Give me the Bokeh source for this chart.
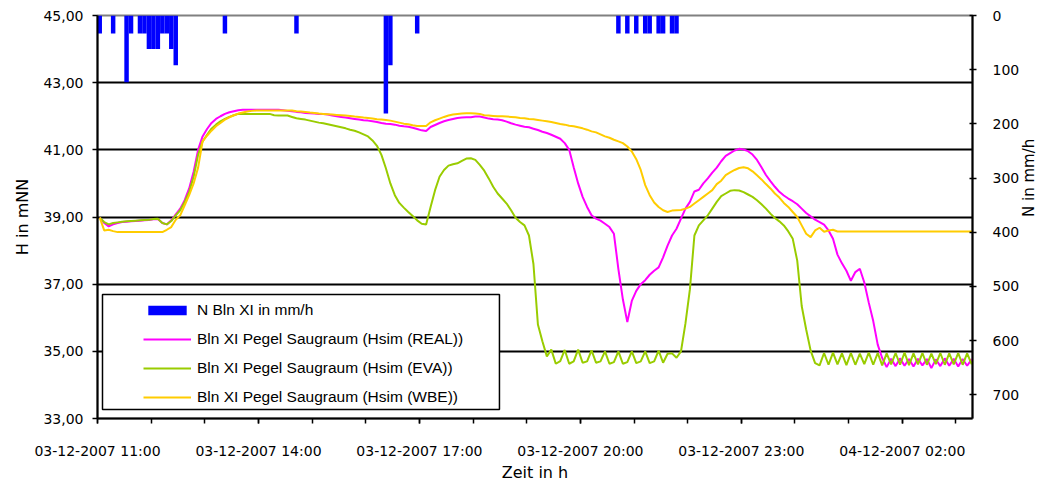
import math
import pandas as pd
from bokeh.plotting import figure
from bokeh.models import (Range1d, LinearAxis, FixedTicker, DatetimeTickFormatter,
                          Legend, LegendItem, BoxAnnotation)
from bokeh.embed import file_html
from bokeh.resources import INLINE

# ---------------- data (5-minute values, first slot starts 03-12-2007 11:00) ----------------
START = "2007-12-03 11:00"
STEP_MIN = 5

# Bln XI Pegel Saugraum (Hsim (REAL))  [mNN]
h_real = [
    38.98, 38.82, 38.72, 38.78, 38.82, 38.85, 38.86, 38.87, 38.88, 38.89, 38.90, 38.91,  # 11:00
    38.93, 38.94, 38.82, 38.78, 38.90, 39.08, 39.25, 39.50, 39.85, 40.35, 41.00, 41.40,  # 12:00
    41.62, 41.80, 41.92, 42.00, 42.07, 42.12, 42.15, 42.18, 42.19, 42.19, 42.19, 42.19,  # 13:00
    42.19, 42.19, 42.19, 42.19, 42.19, 42.18, 42.16, 42.15, 42.13, 42.12, 42.10, 42.09,  # 14:00
    42.08, 42.07, 42.07, 42.05, 42.02, 42.00, 41.98, 41.96, 41.94, 41.92, 41.90, 41.88,  # 15:00
    41.87, 41.85, 41.83, 41.80, 41.78, 41.77, 41.75, 41.72, 41.70, 41.69, 41.66, 41.62,  # 16:00
    41.58, 41.56, 41.68, 41.74, 41.80, 41.85, 41.89, 41.92, 41.95, 41.96, 41.97, 41.97,  # 17:00
    41.99, 41.99, 41.96, 41.93, 41.91, 41.90, 41.88, 41.84, 41.79, 41.75, 41.72, 41.69,  # 18:00
    41.67, 41.63, 41.59, 41.54, 41.50, 41.45, 41.39, 41.33, 41.20, 41.00, 40.48, 40.00,  # 19:00
    39.60, 39.30, 39.05, 38.95, 38.89, 38.80, 38.70, 38.50, 37.45, 36.55, 35.87, 36.50,  # 20:00
    36.80, 37.00, 37.12, 37.28, 37.40, 37.50, 37.80, 38.15, 38.45, 38.65, 38.95, 39.25,  # 21:00
    39.45, 39.76, 39.81, 40.00, 40.15, 40.32, 40.47, 40.66, 40.82, 40.90, 40.98, 41.03,  # 22:00
    41.01, 40.96, 40.86, 40.70, 40.48, 40.25, 40.07, 39.90, 39.75, 39.64, 39.55, 39.47,  # 23:00
    39.38, 39.25, 39.12, 39.02, 38.92, 38.85, 38.77, 38.60, 38.35, 37.88, 37.62, 37.40,  # 00:00
    37.10, 37.36, 37.46, 37.05, 36.45, 35.90, 35.20, 34.80, 34.53, 34.78, 34.56, 34.79,  # 01:00
    34.57, 34.77, 34.55, 34.78, 34.58, 34.77, 34.50, 34.76, 34.56, 34.79, 34.57, 34.78,  # 02:00
    34.55, 34.77, 34.57, 34.76, 34.58,                                                   # 03:00
]

# Bln XI Pegel Saugraum (Hsim (EVA))  [mNN]
h_eva = [
    38.98, 38.85, 38.78, 38.82, 38.84, 38.86, 38.87, 38.88, 38.89, 38.90, 38.91, 38.92,
    38.94, 38.95, 38.82, 38.78, 38.88, 39.05, 39.20, 39.45, 39.75, 40.20, 40.85, 41.25,
    41.45, 41.63, 41.75, 41.85, 41.92, 41.98, 42.03, 42.07, 42.07, 42.07, 42.07, 42.07,
    42.07, 42.07, 42.07, 42.03, 42.02, 42.02, 42.02, 41.98, 41.94, 41.92, 41.90, 41.87,
    41.84, 41.81, 41.79, 41.76, 41.73, 41.70, 41.67, 41.64, 41.60, 41.57, 41.52, 41.46,
    41.40, 41.28, 41.12, 40.85, 40.45, 40.00, 39.65, 39.42, 39.28, 39.15, 39.03, 38.90,
    38.80, 38.78, 39.30, 39.80, 40.20, 40.40, 40.53, 40.57, 40.60, 40.67, 40.74, 40.75,
    40.70, 40.55, 40.38, 40.15, 39.90, 39.70, 39.55, 39.40, 39.20, 38.98, 38.85, 38.75,
    38.45, 37.60, 35.80, 35.30, 34.85, 35.05, 34.63, 34.71, 35.04, 34.63, 34.70, 35.05,
    34.66, 34.70, 35.03, 34.66, 34.70, 35.00, 34.63, 34.68, 35.00, 34.63, 34.68, 35.00,
    34.65, 34.70, 35.00, 34.65, 34.70, 35.02, 34.66, 34.93, 34.94, 34.81, 35.00, 35.83,
    36.85, 38.45, 38.75, 38.90, 39.05, 39.25, 39.45, 39.62, 39.70, 39.78, 39.80, 39.79,
    39.74, 39.67, 39.60, 39.50, 39.38, 39.25, 39.10, 38.97, 38.87, 38.75, 38.57, 38.35,
    37.70, 36.35, 35.65, 35.02, 34.65, 34.58, 34.95, 34.60, 34.96, 34.61, 34.94, 34.59,
    34.95, 34.60, 34.93, 34.62, 34.96, 34.60, 34.95, 34.58, 34.94, 34.61, 34.95, 34.60,
    34.96, 34.59, 34.94, 34.61, 34.95, 34.60, 34.93, 34.62, 34.95, 34.60, 34.94, 34.61,
    34.95, 34.60, 34.94, 34.62, 34.90,
]

# Bln XI Pegel Saugraum (Hsim (WBE))  [mNN]
h_wbe = [
    38.98, 38.60, 38.62, 38.58, 38.55, 38.55, 38.55, 38.55, 38.55, 38.55, 38.55, 38.55,
    38.55, 38.55, 38.55, 38.62, 38.70, 38.92, 39.05, 39.35, 39.65, 40.00, 40.47, 41.25,
    41.42, 41.57, 41.70, 41.80, 41.90, 41.97, 42.03, 42.08, 42.11, 42.14, 42.16, 42.17,
    42.17, 42.17, 42.17, 42.17, 42.17, 42.17, 42.17, 42.17, 42.15, 42.14, 42.13, 42.11,
    42.10, 42.08, 42.07, 42.06, 42.05, 42.04, 42.03, 42.02, 42.01, 41.99, 41.98, 41.96,
    41.95, 41.93, 41.91, 41.90, 41.89, 41.87, 41.84, 41.81, 41.78, 41.76, 41.73, 41.71,
    41.71, 41.71, 41.82, 41.88, 41.93, 41.98, 42.02, 42.05, 42.07, 42.08, 42.09, 42.09,
    42.08, 42.07, 42.03, 42.02, 42.01, 42.00, 42.00, 41.99, 41.98, 41.97, 41.95, 41.94,
    41.92, 41.91, 41.89, 41.87, 41.85, 41.83, 41.80, 41.77, 41.75, 41.72, 41.70, 41.67,
    41.64, 41.60, 41.55, 41.52, 41.46, 41.40, 41.36, 41.30, 41.25, 41.20, 41.10, 40.95,
    40.72, 40.40, 39.95, 39.65, 39.43, 39.30, 39.20, 39.15, 39.19, 39.20, 39.21, 39.25,
    39.30, 39.40, 39.50, 39.60, 39.70, 39.80, 39.98, 40.08, 40.25, 40.33, 40.40, 40.46,
    40.48, 40.45, 40.36, 40.24, 40.12, 39.98, 39.85, 39.70, 39.58, 39.42, 39.30, 39.15,
    39.00, 38.75, 38.50, 38.40, 38.60, 38.68, 38.56, 38.60, 38.62, 38.57, 38.57, 38.57,
    38.57, 38.57, 38.57, 38.57, 38.57, 38.57, 38.57, 38.57, 38.57, 38.57, 38.57, 38.57,
    38.57, 38.57, 38.57, 38.57, 38.57, 38.57, 38.57, 38.57, 38.57, 38.57, 38.57, 38.57,
    38.57, 38.57, 38.57, 38.57, 38.57,
]

# N Bln XI in mm/h : 5-minute slot index (from 11:00) and intensity
rain_slot = [0, 3, 6, 7, 9, 10, 11, 12, 13, 14, 15, 16, 17, 28, 44, 64, 65, 71,
             116, 118, 120, 122, 123, 125, 126, 128, 129]
rain_mmh = [33, 33, 123, 33, 33, 33, 62, 62, 62, 33, 33, 62, 92, 33, 33, 181, 92, 33,
            33, 33, 33, 33, 33, 33, 33, 33, 33]

# axes
x_major = ["2007-12-03 11:00", "2007-12-03 14:00", "2007-12-03 17:00",
           "2007-12-03 20:00", "2007-12-03 23:00", "2007-12-04 02:00"]
h_ticks = [33, 35, 37, 39, 41, 43, 45]
h_tick_labels = ["33,00", "35,00", "37,00", "39,00", "41,00", "43,00", "45,00"]
n_ticks = [0, 100, 200, 300, 400, 500, 600, 700]

# ---------------- helpers ----------------
def ms(t):
    return pd.Timestamp(t).value / 1e6

t0 = ms(START)
slot_ms = STEP_MIN * 60000.0
slot_x = [t0 + (i + 0.5) * slot_ms for i in range(len(h_real))]
rain_x = [t0 + (i + 0.5) * slot_ms for i in rain_slot]

FONT = "DejaVu Sans"

p = figure(frame_width=875, frame_height=403, x_axis_type="datetime",
           x_range=Range1d(ms("2007-12-03 11:00"), ms("2007-12-04 03:18:30")),
           y_range=Range1d(33, 45),
           output_backend="svg", toolbar_location=None,
           min_border_left=97, min_border_right=75, min_border_top=15, min_border_bottom=68)
p.extra_y_ranges = {"rain": Range1d(start=744, end=0)}

p.background_fill_color = "white"
p.border_fill_color = "white"
p.outline_line_color = "#808080"
p.outline_line_width = 2

# grid
p.xgrid.visible = False
p.ygrid.ticker = FixedTicker(ticks=[35, 37, 39, 41, 43])
p.ygrid.grid_line_color = "black"
p.ygrid.grid_line_width = 2

# left axis
ya = p.yaxis[0]
ya.ticker = FixedTicker(ticks=h_ticks)
ya.major_label_overrides = {t: l for t, l in zip(h_ticks, h_tick_labels)}
ya.axis_label = "H in mNN"

# bottom axis
xa = p.xaxis[0]
minor = [ms(t) for t in pd.date_range("2007-12-03 11:00", "2007-12-04 03:00", freq="1h")]
xa.ticker = FixedTicker(ticks=[ms(t) for t in x_major], minor_ticks=minor)
fmt = "%d-%m-%Y %H:%M"
xa.formatter = DatetimeTickFormatter(microseconds=fmt, milliseconds=fmt, seconds=fmt, minsec=fmt,
                                     minutes=fmt, hourmin=fmt, hours=fmt, days=fmt,
                                     months=fmt, years=fmt)
xa.axis_label = "Zeit in h"

# right axis
ra = LinearAxis(y_range_name="rain", ticker=FixedTicker(ticks=n_ticks), axis_label="N in mm/h")
p.add_layout(ra, "right")

for ax in (ya, xa, ra):
    ax.axis_line_color = "black"
    ax.axis_line_width = 2
    ax.major_tick_line_color = "black"
    ax.major_tick_line_width = 1.5
    ax.minor_tick_line_color = "black"
    ax.minor_tick_line_width = 1.5
    ax.major_label_text_font = FONT
    ax.major_label_text_font_size = "14px"
    ax.major_label_text_color = "black"
    ax.axis_label_text_font = FONT
    ax.axis_label_text_font_size = "16px"
    ax.axis_label_text_font_style = "normal"
    ax.axis_label_text_color = "black"

ya.major_tick_in = 0
ya.major_tick_out = 5
ya.minor_tick_in = 0
ya.minor_tick_out = 0
ya.major_label_standoff = 9
ya.axis_label_standoff = 8

xa.major_tick_in = 0
xa.major_tick_out = 5
xa.minor_tick_in = 0
xa.minor_tick_out = 5
xa.major_label_standoff = 19
xa.axis_label_standoff = 1

ra.major_tick_in = 3
ra.major_tick_out = 4
ra.minor_tick_in = 0
ra.minor_tick_out = 0
ra.major_label_standoff = 16
ra.axis_label_standoff = 7
ra.axis_label_text_font_size = "15px"
ra.axis_label_orientation = math.pi / 2

# glyphs
r_bar = p.vbar(x=rain_x, width=slot_ms, top=0, bottom=rain_mmh, y_range_name="rain",
               fill_color="#0000FF", line_color=None)
r_real = p.line(slot_x, h_real, line_color="#FF00FF", line_width=2)
r_eva = p.line(slot_x, h_eva, line_color="#99CC00", line_width=2)
r_wbe = p.line(slot_x, h_wbe, line_color="#FFCC00", line_width=2)

# legend frame + legend
legend_frame = BoxAnnotation(left=ms("2007-12-03 11:05:35"), right=ms("2007-12-03 18:29:30"),
                             top=36.69, bottom=33.27, fill_color="white", fill_alpha=1.0,
                             line_color="black", line_width=1.5, line_alpha=1.0)
p.add_layout(legend_frame)

legend = Legend(items=[
    LegendItem(label="N Bln XI in mm/h", renderers=[r_bar]),
    LegendItem(label="Bln XI Pegel Saugraum (Hsim (REAL))", renderers=[r_real]),
    LegendItem(label="Bln XI Pegel Saugraum (Hsim (EVA))", renderers=[r_eva]),
    LegendItem(label="Bln XI Pegel Saugraum (Hsim (WBE))", renderers=[r_wbe]),
], location=(46, 11), orientation="vertical", padding=0, margin=0, spacing=9,
    glyph_width=48, glyph_height=12, label_height=20, label_standoff=6,
    border_line_alpha=0, background_fill_alpha=0,
    label_text_font="Liberation Sans", label_text_font_size="15.5px", label_text_color="black")
p.add_layout(legend)

open("out.html", "w").write(file_html(p, INLINE))
